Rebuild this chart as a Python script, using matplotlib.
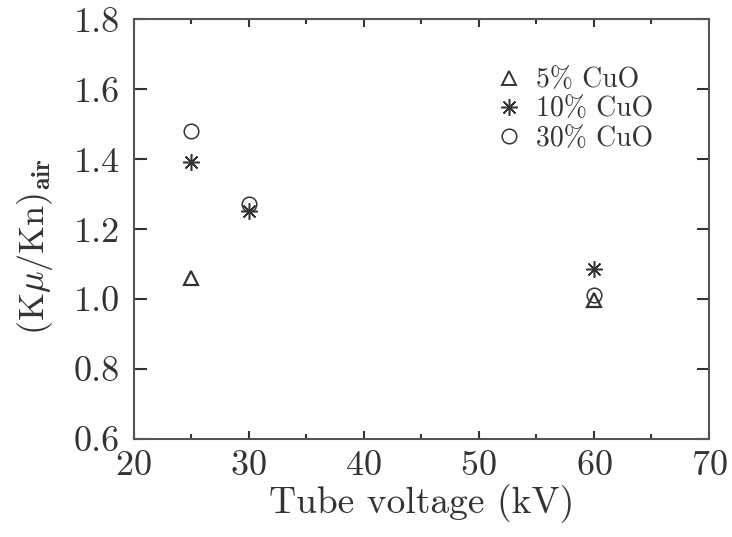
import matplotlib
matplotlib.use("Agg")
import matplotlib.pyplot as plt
from matplotlib.lines import Line2D

# tube voltage (kV) and ratio values
kv = [25, 30, 60]
cuo5_kv = [25, 60]
cuo5_val = [1.06, 0.998]
cuo10 = [1.392, 1.252, 1.086]
cuo30 = [1.481, 1.272, 1.012]

plt.rcParams["font.family"] = ["cmr10", "DejaVu Serif"]
plt.rcParams["mathtext.fontset"] = "cm"
plt.rcParams["axes.formatter.use_mathtext"] = True

ink = "#333333"
txt = "#333333"
fig = plt.figure(figsize=(7.32, 5.37), dpi=100)
ax = fig.add_axes([0.1824, 0.1825, 0.7862, 0.7812])

ax.plot(cuo5_kv, cuo5_val, ls="none", marker="^", ms=10, mfc="none", mec=ink, mew=1.6)
ax.plot(kv, cuo10, ls="none", marker=(8, 2, 0), ms=12, mec=ink, mew=1.1)
ax.plot(kv, cuo30, ls="none", marker="o", ms=10.5, mfc="none", mec=ink, mew=1.1)

ax.set_xlim(20, 70)
ax.set_ylim(0.6, 1.8)
ax.set_xticks([20, 30, 40, 50, 60, 70])
ax.set_xticks([25, 35, 45, 55, 65], minor=True)
ax.set_yticks([0.6, 0.8, 1.0, 1.2, 1.4, 1.6, 1.8])
ax.set_yticklabels(["0.6", "0.8", "1.0", "1.2", "1.4", "1.6", "1.8"])

for s in ax.spines.values():
    s.set_linewidth(1.5)
    s.set_color("#555555")
ax.tick_params(axis="x", which="major", direction="in", length=6, width=1.5,
               top=True, colors=ink, labelsize=26, pad=8, labelcolor=txt)
ax.tick_params(axis="x", which="minor", direction="in", length=3.5, width=1.5,
               top=True, color=ink)
ax.tick_params(axis="y", which="major", direction="in", length=9, width=1.5,
               right=True, colors=ink, labelsize=26, pad=10, labelcolor=txt)

ax.set_xlabel("Tube voltage (kV)", fontsize=27, color=txt, labelpad=2)
ax.set_ylabel(r"(K$\mu$/Kn)$_{\mathbf{air}}$", fontsize=26, color=txt)
ax.yaxis.set_label_coords(-0.137, 0.46)

handles = [
    Line2D([], [], ls="none", marker="^", ms=10, mfc="none", mec=ink, mew=1.4),
    Line2D([], [], ls="none", marker=(8, 2, 0), ms=12, mec=ink, mew=1.1),
    Line2D([], [], ls="none", marker="o", ms=10.5, mfc="none", mec=ink, mew=1.1),
]
ax.legend(handles, ["5% CuO", "10% CuO", "30% CuO"], loc="upper left",
          bbox_to_anchor=(0.613, 0.913), frameon=False, fontsize=20,
          handlelength=0.8, handletextpad=0.6, labelspacing=0.1,
          borderaxespad=0, labelcolor=txt)

fig.savefig("out.png", dpi=100)
